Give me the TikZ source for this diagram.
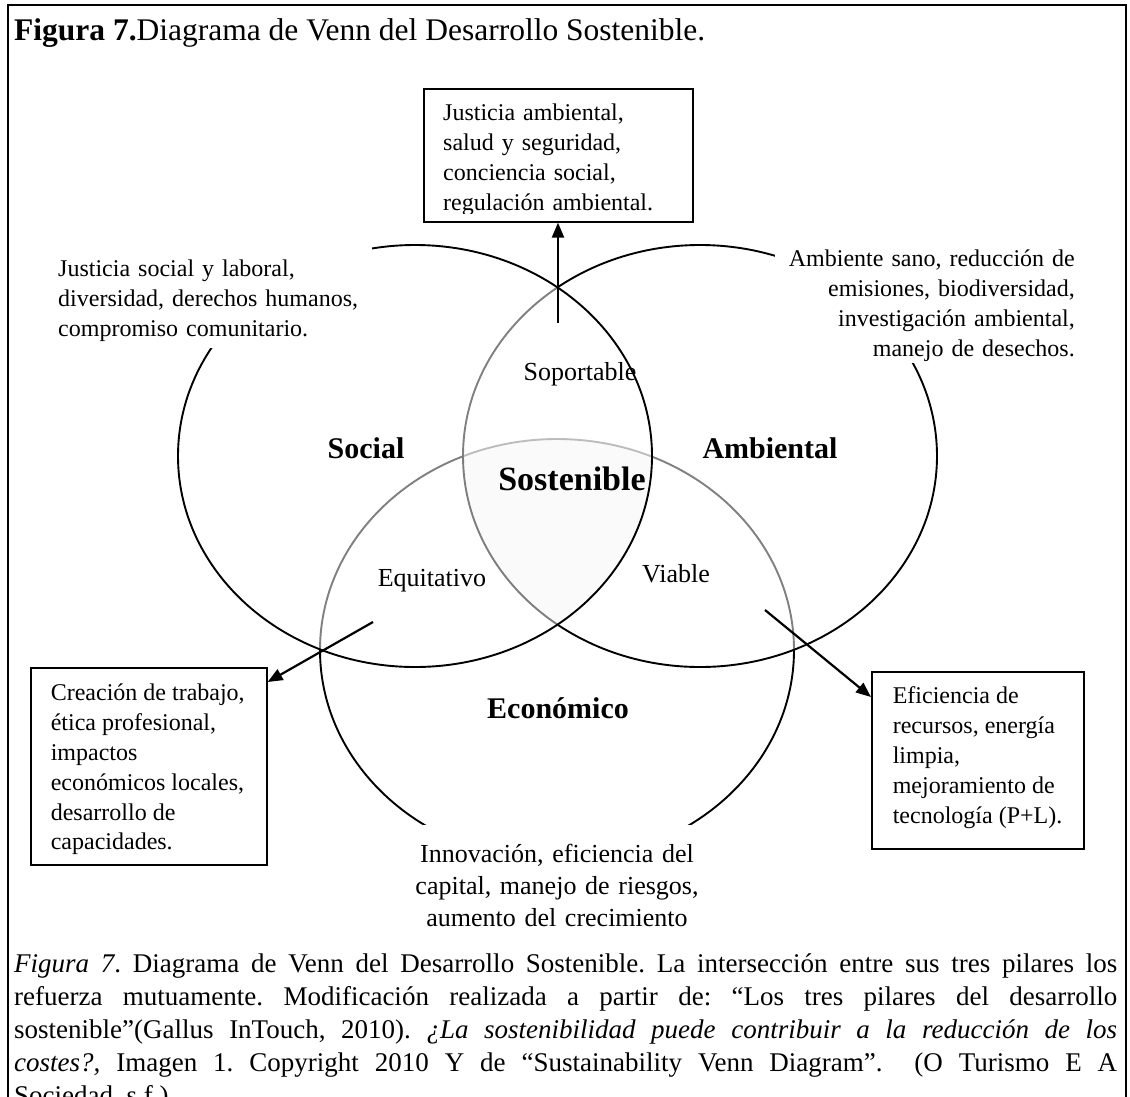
\documentclass[tikz,border=0pt]{standalone}
\usepackage{fontspec}
\setmainfont{Liberation Serif}
\usetikzlibrary{arrows.meta,calc}

\begin{document}
\begin{tikzpicture}[x=1pt,y=-1pt,
  ring/.style={line width=1.9pt, draw=black},
  veil/.style={fill=white, fill opacity=0.5},
  frameline/.style={line width=1.8pt},
  txt/.style={inner sep=0pt, font=\fontsize{24}{30}\selectfont},
  lbl/.style={inner sep=0pt, font=\fontsize{26}{30}\selectfont},
  pillar/.style={inner sep=0pt, font=\bfseries\fontsize{30}{34}\selectfont},
  infobox/.style={draw, line width=1.6pt, fill=white, inner ysep=0pt, anchor=north west,
                  font=\fontsize{24}{29.8}\selectfont},
  pointer/.style={line width=2.2pt, -{Triangle[length=15pt,width=12pt]}},
  ell/.style={x radius=237pt, y radius=211pt},
]
\useasboundingbox (0,0) rectangle (1130,1096);
\begin{scope}
\clip (0,0) rectangle (1130,1096);

% outer frame
\draw[frameline] (8,5) rectangle (1126,1130);

% title
\node[anchor=base west, inner sep=0pt, font=\fontsize{31.5}{36}\selectfont] (title) at (14,40)
  {\textbf{Figura 7.}Diagrama de Venn del Desarrollo Sostenible.};

% the three pillars: economic first, then environmental, then social,
% each later one veils the lines beneath it
\coordinate (cE) at (557,650);
\coordinate (cA) at (700,456);
\coordinate (cS) at (415,456);
\draw[ring] (cE) ellipse [ell];
\draw[ring, veil] (cA) ellipse [ell];
\draw[ring, veil] (cS) ellipse [ell];

% faint tint on the common core
\begin{scope}
  \clip (cS) ellipse [ell];
  \clip (cA) ellipse [ell];
  \fill[black, opacity=0.02] (cE) ellipse [ell];
\end{scope}

% white grounds behind the free text blocks
\fill[white] (48,238) rectangle (372,348);
\fill[white] (775,238) rectangle (1100,363);
\fill[white] (395,825) rectangle (720,900);

% free text blocks
\node[txt, anchor=base west, text width=320pt, align=left] (soctxt) at (58,276)
  {Justicia social y laboral,\\ diversidad, derechos humanos,\\ compromiso comunitario.};
\node[txt, anchor=base east, text width=300pt, align=right] (envtxt) at (1075,266)
  {Ambiente sano, reducción de\\ emisiones, biodiversidad,\\ investigación ambiental,\\ manejo de desechos.};
\node[txt, anchor=base, text width=320pt, align=center, font=\fontsize{26}{32}\selectfont] (ecotxt) at (557,862)
  {Innovación, eficiencia del\\ capital, manejo de riesgos,\\ aumento del crecimiento};

% labels
\node[pillar, anchor=base] (social) at (366,458) {Social};
\node[pillar, anchor=base] (ambiental) at (770,458) {Ambiental};
\node[pillar, anchor=base] (economico) at (558,718) {Económico};
\node[inner sep=0pt, font=\bfseries\fontsize{34}{38}\selectfont, anchor=base] (core) at (572,490) {Sostenible};
\node[lbl, anchor=base] (soportable) at (580,380) {Soportable};
\node[lbl, anchor=base] (equitativo) at (432,586) {Equitativo};
\node[lbl, anchor=base] (viable) at (676,582) {Viable};

% boxes
\node[infobox, minimum width=269pt, minimum height=133pt, inner sep=0pt] (topbox) at (423,88) {};
\begin{scope}
  \clip (423,88) rectangle (692,213.5);
  \node[txt, anchor=base west, text width=240pt, align=left] (toptxt) at (443,120)
    {Justicia ambiental,\\ salud y seguridad,\\ conciencia social,\\ regulación ambiental.};
\end{scope}

\node[infobox, inner xsep=20pt] (leftbox) at (30,667)
  {\parbox[t][197pt][t]{196pt}{\raggedright\rule{0pt}{33pt}Creación de trabajo,\\ ética profesional,\\ impactos\\ económicos locales,\\ desarrollo de\\ capacidades.}};
\node[infobox, inner xsep=21pt] (rightbox) at (871,671)
  {\parbox[t][177pt][t]{170pt}{\raggedright\rule{0pt}{32pt}Eficiencia de\\ recursos, energía\\ limpia,\\ mejoramiento de\\ tecnología (P+L).}};

% connectors
\coordinate (soptail) at (558,323);
\coordinate (eqtail) at (373,622);
\coordinate (vitail) at (765,610);
\draw[pointer] (soptail) -- (soptail |- topbox.south);
\draw[pointer] (eqtail) -- ($(leftbox.north east)+(0,15)$);
\draw[pointer] (vitail) -- ($(rightbox.north west)+(0,26)$);

% caption, justified line by line
\node[anchor=base west, inner sep=0pt, text width=1103pt, align=justify,
      font=\fontsize{27}{33}\selectfont] (caption) at (14,972)
  {\frenchspacing\spaceskip=6.75pt plus 30pt minus 2pt\relax
   \textit{Figura 7}. Diagrama de Venn del Desarrollo Sostenible. La intersección entre sus tres pilares los\linebreak
   refuerza mutuamente. Modificación realizada a partir de: “Los tres pilares del desarrollo\linebreak
   sostenible”(Gallus InTouch, 2010). \textit{¿La sostenibilidad puede contribuir a la reducción de los}\linebreak
   \textit{costes?,} Imagen 1. Copyright 2010 Y de “Sustainability Venn Diagram”.\ \ (O Turismo E A\linebreak
   Sociedad, s.f.).};
\end{scope}
\end{tikzpicture}
\end{document}
